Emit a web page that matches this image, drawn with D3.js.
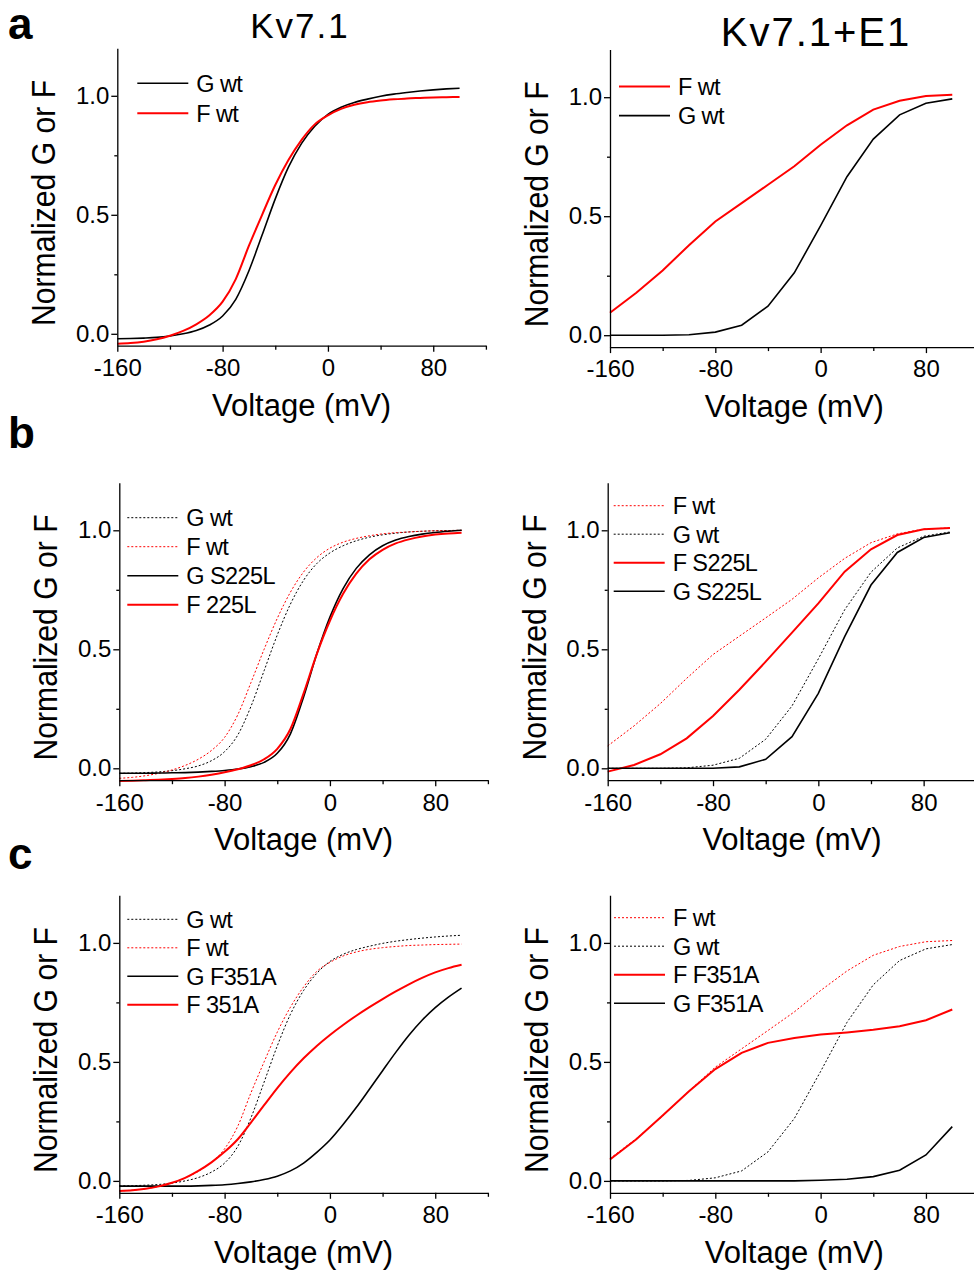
<!DOCTYPE html>
<html>
<head>
<meta charset="utf-8">
<script src="https://cdn.jsdelivr.net/npm/d3@7"></script>
<style>
  body { margin: 0; background: #fff; }
  text { font-family: "Liberation Sans", Arial, sans-serif; fill: #000; }
</style>
</head>
<body>
<script>
// voltage grids (mV)
var vFine = [-160,-150,-140,-130,-120,-110,-100,-90,-80,-70,-60,-50,-40,-30,-20,-10,0,10,20,30,40,50,60,70,80,90,100];
var vStep = [-160,-140,-120,-100,-80,-60,-40,-20,0,20,40,60,80,100];

// Kv7.1 alone (smooth fits)
var gWtA  = [-0.021,-0.02,-0.018,-0.015,-0.009,0.0,0.014,0.037,0.075,0.145,0.265,0.415,0.567,0.7,0.8,0.872,0.922,0.952,0.972,0.986,0.998,1.007,1.014,1.02,1.025,1.029,1.032];
var fWtA  = [-0.042,-0.039,-0.033,-0.023,-0.008,0.012,0.04,0.078,0.135,0.23,0.37,0.5,0.625,0.73,0.815,0.88,0.918,0.945,0.962,0.973,0.98,0.985,0.989,0.991,0.993,0.994,0.995];
var gWtB  = [-0.021,-0.02,-0.018,-0.015,-0.01,-0.002,0.01,0.032,0.07,0.14,0.26,0.41,0.56,0.69,0.79,0.86,0.905,0.935,0.956,0.971,0.981,0.988,0.993,0.996,0.998,0.999,1.0];
var fWtB  = [-0.042,-0.038,-0.031,-0.021,-0.007,0.012,0.038,0.075,0.13,0.225,0.36,0.5,0.63,0.74,0.825,0.885,0.925,0.95,0.966,0.977,0.985,0.99,0.993,0.996,0.998,0.999,1.0];
var gS225L = [-0.021,-0.021,-0.021,-0.02,-0.019,-0.018,-0.016,-0.013,-0.009,-0.003,0.007,0.025,0.063,0.145,0.3,0.48,0.635,0.755,0.84,0.897,0.935,0.959,0.974,0.984,0.991,0.996,1.0];
var fS225L = [-0.053,-0.052,-0.05,-0.048,-0.045,-0.041,-0.035,-0.027,-0.017,-0.004,0.013,0.038,0.082,0.165,0.315,0.48,0.62,0.733,0.818,0.878,0.918,0.945,0.962,0.974,0.982,0.987,0.99];
var gF351A = [-0.022,-0.022,-0.022,-0.022,-0.022,-0.022,-0.021,-0.019,-0.016,-0.011,-0.004,0.006,0.02,0.042,0.075,0.12,0.172,0.237,0.308,0.385,0.463,0.54,0.612,0.675,0.728,0.772,0.81];
var fF351A = [-0.042,-0.039,-0.033,-0.023,-0.008,0.013,0.042,0.078,0.122,0.175,0.245,0.318,0.39,0.456,0.515,0.567,0.613,0.655,0.694,0.73,0.764,0.796,0.826,0.853,0.876,0.894,0.908];

// Kv7.1 + E1 (20 mV steps)
var fWtE1    = [0.094,0.178,0.272,0.378,0.478,0.555,0.632,0.71,0.8,0.882,0.948,0.985,1.005,1.01];
var gWtE1    = [0,0,0,0.002,0.013,0.042,0.122,0.262,0.46,0.666,0.824,0.926,0.975,0.993];
var fS225LE1 = [-0.014,0.014,0.059,0.126,0.22,0.33,0.448,0.57,0.693,0.826,0.92,0.98,1.004,1.01];
var gS225LE1 = [0,0,0,0,0,0.006,0.038,0.133,0.315,0.553,0.77,0.907,0.97,0.99];
var fF351AE1 = [0.09,0.175,0.275,0.377,0.47,0.538,0.58,0.6,0.615,0.624,0.635,0.65,0.675,0.72];
var gF351AE1 = [0,0,0,0,0,0,0,0,0.003,0.007,0.018,0.045,0.109,0.228];

var xMajor = [-160,-80,0,80], xMinor = [-120,-40,40,120];
var yMajor = [0,0.5,1.0], yMinor = [0.25,0.75];

// series: [label, voltages, values, colour, dotted]
var panels = [
  {left:117.3, top:48.2, smooth:true, leg:[20,35,30], series:[
    ["G wt", vFine, gWtA, "#000", false],
    ["F wt", vFine, fWtA, "#f00", false]]},
  {left:610, top:49.6, smooth:false, leg:[9,37,29], series:[
    ["F wt", vStep, fWtE1, "#f00", false],
    ["G wt", vStep, gWtE1, "#000", false]]},
  {left:119.3, top:482.7, smooth:true, leg:[8,35,29], series:[
    ["G wt", vFine, gWtB, "#000", true],
    ["F wt", vFine, fWtB, "#f00", true],
    ["G S225L", vFine, gS225L, "#000", false],
    ["F 225L", vFine, fS225L, "#f00", false]]},
  {left:607.7, top:482.7, smooth:false, leg:[6,23,28.5], series:[
    ["F wt", vStep, fWtE1, "#f00", true],
    ["G wt", vStep, gWtE1, "#000", true],
    ["F S225L", vStep, fS225LE1, "#f00", false],
    ["G S225L", vStep, gS225LE1, "#000", false]]},
  {left:119.3, top:895.3, smooth:true, leg:[8,24,28.5], series:[
    ["G wt", vFine, gWtA, "#000", true],
    ["F wt", vFine, fWtA, "#f00", true],
    ["G F351A", vFine, gF351A, "#000", false],
    ["F 351A", vFine, fF351A, "#f00", false]]},
  {left:610, top:895.3, smooth:false, leg:[4,22.4,28.5], series:[
    ["F wt", vStep, fWtE1, "#f00", true],
    ["G wt", vStep, gWtE1, "#000", true],
    ["F F351A", vStep, fF351AE1, "#f00", false],
    ["G F351A", vStep, gF351AE1, "#000", false]]}
];

var W = 368.6, H = 297.5;

var svg = d3.select("body").append("svg")
  .attr("width", 974).attr("height", 1277);
svg.append("rect").attr("width", 974).attr("height", 1277).attr("fill", "#fff");

function strokeW(s) { return s[4] ? 1 : (s[3] === "#f00" ? 2 : 1.6); }

panels.forEach(function (p) {
  var x = d3.scaleLinear().domain([-160, 120]).range([p.left, p.left + W]);
  var y = d3.scaleLinear().domain([-0.05, 1.2]).range([p.top + H, p.top]);
  var g = svg.append("g");

  // curves
  var line = d3.line()
    .x(function (d) { return x(d[0]); })
    .y(function (d) { return y(d[1]); })
    .curve(p.smooth ? d3.curveMonotoneX : d3.curveLinear);
  p.series.forEach(function (s) {
    var pts = s[1].map(function (v, i) { return [v, s[2][i]]; });
    g.append("path").datum(pts)
      .attr("d", line)
      .attr("fill", "none")
      .attr("stroke", s[3])
      .attr("stroke-width", strokeW(s))
      .attr("stroke-dasharray", s[4] ? "2,2" : null);
  });

  // axes
  var xb = y(-0.05), yl = x(-160);
  var ax = g.append("g").attr("transform", "translate(0," + xb + ")")
    .call(d3.axisBottom(x).tickValues(xMajor).tickFormat(function (d) { return String(d); })
      .tickSize(6).tickSizeOuter(0).tickPadding(4));
  g.append("g").attr("transform", "translate(0," + xb + ")")
    .call(d3.axisBottom(x).tickValues(xMinor).tickSize(4).tickFormat("").tickSizeOuter(0))
    .select(".domain").remove();
  g.append("g").attr("transform", "translate(" + yl + ",0)")
    .call(d3.axisLeft(y).tickValues(yMajor).tickFormat(d3.format(".1f")).tickSize(6).tickSizeOuter(0).tickPadding(2));
  g.append("g").attr("transform", "translate(" + yl + ",0)")
    .call(d3.axisLeft(y).tickValues(yMinor).tickSize(3).tickFormat("").tickSizeOuter(0))
    .select(".domain").remove();
  g.selectAll(".domain, .tick line").attr("stroke", "#000").attr("stroke-width", 1.3);
  g.selectAll(".tick text")
    .attr("font-family", "Liberation Sans, Arial, sans-serif")
    .attr("font-size", 24).attr("fill", "#000");
  ax.selectAll(".tick text").attr("dy", "0.85em");

  // axis titles
  g.append("text")
    .attr("x", p.left + W / 2).attr("y", xb + 70)
    .attr("text-anchor", "middle").attr("font-size", 31)
    .text("Voltage (mV)");
  g.append("text")
    .attr("transform", "translate(" + (yl - 62) + "," + (p.top + H / 2 + 6) + ") rotate(-90)")
    .attr("text-anchor", "middle").attr("font-size", 34)
    .attr("textLength", 246).attr("lengthAdjust", "spacingAndGlyphs")
    .text("Normalized G or F");

  // legend
  p.series.forEach(function (s, i) {
    var lx = p.left + p.leg[0], ly = p.top + p.leg[1] + i * p.leg[2];
    g.append("line")
      .attr("x1", lx).attr("x2", lx + 51).attr("y1", ly).attr("y2", ly)
      .attr("stroke", s[3])
      .attr("stroke-width", strokeW(s))
      .attr("stroke-dasharray", s[4] ? "2,2" : null);
    g.append("text")
      .attr("x", lx + 59).attr("y", ly + 8.5)
      .attr("font-size", 23.5).attr("letter-spacing", -0.6)
      .text(s[0]);
  });
});

// column titles and panel letters
svg.append("text").attr("x", 300).attr("y", 38).attr("text-anchor", "middle")
  .attr("font-family", "Lato, sans-serif").attr("font-weight", 300)
  .attr("font-size", 35).attr("letter-spacing", 2).text("Kv7.1");
svg.append("text").attr("x", 816).attr("y", 46).attr("text-anchor", "middle")
  .attr("font-family", "Lato, sans-serif").attr("font-weight", 300)
  .attr("font-size", 40).attr("letter-spacing", 2).text("Kv7.1+E1");

[["a", 39], ["b", 448], ["c", 869]].forEach(function (l) {
  svg.append("text").attr("x", 8).attr("y", l[1])
    .attr("font-weight", "bold").attr("font-size", 44).text(l[0]);
});
</script>
</body>
</html>
